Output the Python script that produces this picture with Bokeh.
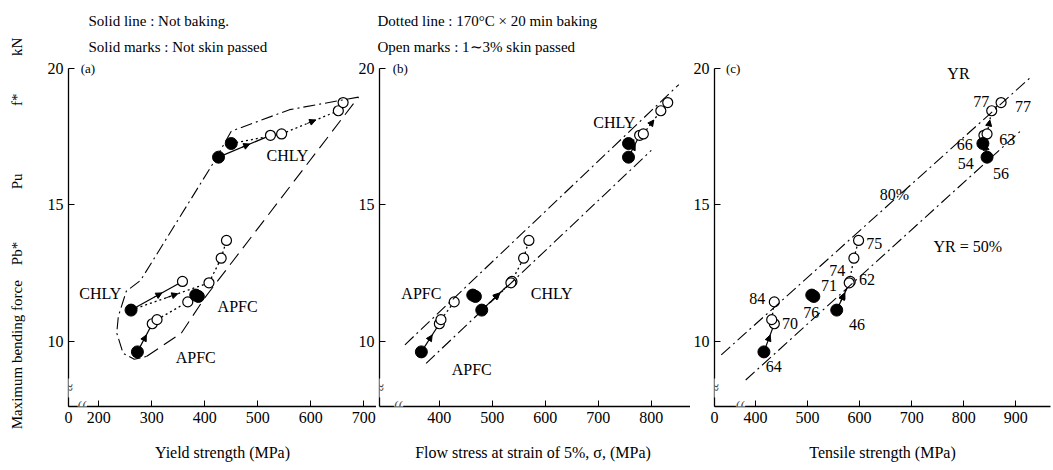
from bokeh.plotting import figure
from bokeh.layouts import row
from bokeh.models import Range1d, FixedTicker, Label, Arrow, NormalHead, Title
from bokeh.embed import file_html
from bokeh.resources import INLINE

FONT = "Liberation Serif"

# ---------------- data ----------------
point_ids = ["AL_f", "AL_o1", "AL_o2", "AL_o3", "AH_f1", "AH_f2", "CL_f", "CL_oA", "CL_oB",
             "CL_oC", "CL_oD", "CH_f1", "CH_f2", "CH_o1", "CH_o2", "CH_o3", "CH_o4"]
solid_mark = [True, False, False, False, True, True, True, False, False,
              False, False, True, True, False, False, False, False]
max_force = [9.62, 10.65, 10.8, 11.45, 11.7, 11.65, 11.15, 12.2, 12.15,
             13.05, 13.7, 16.75, 17.25, 17.55, 17.6, 18.45, 18.75]
yield_strength = [273, 301, 310, 368, 383, 388, 261, 358, 408,
                  431, 441, 426, 450, 524, 545, 652, 661]
flow_stress = [366, 400, 403, 428, 463, 468, 480, 537, 535,
               559, 569, 757, 757, 778, 785, 818, 831]
tensile_strength = [416, 436, 431, 436, 508, 512, 556, 582, 580,
                    589, 598, 845, 837, 839, 845, 854, 872]

solid_links = [("AL_f", "AL_o1"), ("CL_f", "CL_oA"), ("CH_f1", "CH_o1")]
dotted_links = [("AL_o2", "AL_o3"), ("CL_f", "CL_oB"), ("CL_oB", "CL_oC"), ("CL_oC", "CL_oD"),
                ("CH_f2", "CH_o2"), ("CH_o2", "CH_o3"), ("CH_o3", "CH_o4")]
arrow_links = [("AL_f", "AL_o1"), ("CL_f", "CL_oA"), ("CH_f1", "CH_o1"),
               ("CL_f", "CL_oB"), ("CH_o2", "CH_o3")]

yield_ticks = [200, 300, 400, 500, 600, 700]
flow_ticks = [400, 500, 600, 700, 800]
tensile_ticks = [400, 500, 600, 700, 800, 900]
force_ticks = [10, 15, 20]

# envelope / reference lines
env_a_dashdot_x = [690, 560, 450, 414, 279, 252, 237, 234, 246, 267, 290]
env_a_dashdot_y = [18.95, 18.49, 17.7, 16.47, 12.24, 11.84, 10.92, 10.31, 9.57, 9.35, 9.45]
env_a_dash_x = [290, 356, 400, 690]
env_a_dash_y = [9.45, 10.31, 11.6, 18.95]
band_b_upper_x = [335, 852]
band_b_upper_y = [9.88, 19.41]
band_b_lower_x = [375, 800]
band_b_lower_y = [9.2, 17.0]
yr80_x = [334, 928]
yr80_y = [9.51, 19.66]
yr50_x = [381, 909]
yr50_y = [8.59, 17.7]

labels_a = [("CHLY", 556, 16.8), ("CHLY", 203, 11.76), ("APFC", 462, 11.29), ("APFC", 383, 9.41)]
labels_b = [("CHLY", 730, 18.01), ("APFC", 366, 11.76), ("CHLY", 612, 11.76), ("APFC", 461, 8.97)]
labels_c = [("YR", 790, 19.82), ("77", 834, 18.8), ("77", 914, 18.62), ("66", 802, 17.2),
            ("63", 884, 17.39), ("54", 804, 16.53), ("56", 872, 16.16), ("80%", 667, 15.37),
            ("YR = 50%", 808, 13.47), ("75", 628, 13.59), ("74", 557, 12.61), ("71", 541, 12.05),
            ("62", 614, 12.27), ("84", 403, 11.59), ("76", 507, 11.07), ("70", 466, 10.67),
            ("46", 595, 10.61), ("64", 435, 9.08)]

Y_RANGE = (7.62, 20.29)
idx = {k: i for i, k in enumerate(point_ids)}
EM = "\u2003"
EN = "\u2002"


def make_panel(xvals, xr, width, mbl, mbr, ticks, zero_label, xlabel, margin_left):
    p = figure(width=width, height=470, x_range=Range1d(*xr), y_range=Range1d(*Y_RANGE),
               output_backend="svg", toolbar_location=None,
               min_border_left=mbl, min_border_right=mbr, min_border_top=60, min_border_bottom=64,
               margin=(0, 0, 0, margin_left))
    p.grid.visible = False
    p.outline_line_color = None
    p.background_fill_alpha = 0
    p.border_fill_alpha = 0

    xt = list(ticks)
    overrides = {}
    if zero_label:
        xt = [xr[0]] + xt
        overrides = {xr[0]: "0"}
    p.xaxis.ticker = FixedTicker(ticks=xt)
    p.xaxis.major_label_overrides = overrides
    p.yaxis.ticker = FixedTicker(ticks=force_ticks)
    p.yaxis.bounds = (Y_RANGE[0], 20)
    for ax in (p.xaxis, p.yaxis):
        ax.major_tick_in = 6
        ax.major_tick_out = 0
        ax.minor_tick_line_color = None
        ax.axis_line_color = "black"
        ax.axis_line_width = 1.3
        ax.major_tick_line_color = "black"
        ax.major_label_text_font = FONT
        ax.major_label_text_font_size = "16px"
        ax.major_label_text_color = "black"
        ax.axis_label_text_font = FONT
        ax.axis_label_text_font_size = "16px"
        ax.axis_label_text_font_style = "normal"
        ax.axis_label_text_color = "black"
    p.xaxis.axis_label = xlabel
    p.xaxis.axis_label_standoff = 18

    for a, b in solid_links:
        p.line([xvals[idx[a]], xvals[idx[b]]], [max_force[idx[a]], max_force[idx[b]]],
               line_color="black", line_width=1.2)
    for a, b in dotted_links:
        p.line([xvals[idx[a]], xvals[idx[b]]], [max_force[idx[a]], max_force[idx[b]]],
               line_color="black", line_width=1.3, line_dash="2 3")
    for a, b in arrow_links:
        x0, y0 = xvals[idx[a]], max_force[idx[a]]
        x1, y1 = xvals[idx[b]], max_force[idx[b]]
        p.add_layout(Arrow(end=NormalHead(size=6, fill_color="black", line_color="black"),
                           x_start=x0 + 0.45 * (x1 - x0), y_start=y0 + 0.45 * (y1 - y0),
                           x_end=x0 + 0.6 * (x1 - x0), y_end=y0 + 0.6 * (y1 - y0),
                           line_width=1))

    xs_f = [x for x, s in zip(xvals, solid_mark) if s]
    ys_f = [y for y, s in zip(max_force, solid_mark) if s]
    xs_o = [x for x, s in zip(xvals, solid_mark) if not s]
    ys_o = [y for y, s in zip(max_force, solid_mark) if not s]
    p.scatter(xs_o, ys_o, marker="circle", size=10, fill_color="white", line_color="black", line_width=1.2)
    p.scatter(xs_f, ys_f, marker="circle", size=12, fill_color="black", line_color="black")

    p.add_layout(Label(x=xr[0], y=8.3, text="≈", text_font=FONT, text_font_size="17px",
                       text_align="center", text_baseline="middle", background_fill_color="white"))
    return p


def add_texts(p, items, size="16px"):
    for t, x, y in items:
        p.add_layout(Label(x=x, y=y, text=t, text_font=FONT, text_font_size=size,
                           text_align="center", text_baseline="middle", text_color="black"))


def add_title_lines(p, lines, offset):
    # first entry is placed closest to the frame
    for i, t in enumerate(lines):
        p.add_layout(Title(text=t, align="left", offset=offset, text_font=FONT,
                           text_font_size="15px", text_font_style="normal", text_color="black",
                           standoff=11 if i == 0 else 6), "above")


# ---------- panel (a) ----------
XA = (143, 724)
pa = make_panel(yield_strength, XA, 376, 68, 0, yield_ticks, True, "Yield strength (MPa)", 0)
pa.yaxis.axis_label = ("Maximum bending force" + EM + "Pb*" + EM * 3 + EN + "Pu" +
                       EM * 4 + EN + "f*" + EM * 2 + EN + "kN")
pa.yaxis.axis_label_text_font_size = "15px"
pa.yaxis.axis_label_standoff = 20
pa.line(env_a_dashdot_x, env_a_dashdot_y, line_color="black", line_width=1.1, line_dash="12 4 2 4")
pa.line(env_a_dash_x, env_a_dash_y, line_color="black", line_width=1.1, line_dash="14 7")
add_texts(pa, labels_a)
pa.add_layout(Label(x=166, y=20, text="(a)", text_font=FONT, text_font_size="13px",
                    text_baseline="middle", text_color="black"))
pa.add_layout(Label(x=169, y=Y_RANGE[0], text="((", text_font=FONT, text_font_size="14px",
                    text_align="center", text_baseline="middle", background_fill_color="white"))
add_title_lines(pa, ["Solid marks : Not skin passed", "Solid line : Not baking."], 20)

# ---------- panel (b) ----------
XB = (287, 874)
pb = make_panel(flow_stress, XB, 347, 36, 0, flow_ticks, False,
                "Flow stress at strain of 5%,  σ, (MPa)", -33)
pb.line(band_b_upper_x, band_b_upper_y, line_color="black", line_width=1.1, line_dash="12 4 2 4")
pb.line(band_b_lower_x, band_b_lower_y, line_color="black", line_width=1.1, line_dash="12 4 2 4")
add_texts(pb, labels_b)
pb.add_layout(Label(x=312, y=20, text="(b)", text_font=FONT, text_font_size="13px",
                    text_baseline="middle", text_color="black"))
pb.add_layout(Label(x=323, y=Y_RANGE[0], text="((", text_font=FONT, text_font_size="14px",
                    text_align="center", text_baseline="middle", background_fill_color="white"))
add_title_lines(pb, ["Open marks : 1∼3% skin passed", "Dotted line : 170°C × 20 min baking"], -2)

# ---------- panel (c) ----------
XC = (321, 967)
pc = make_panel(tensile_strength, XC, 375, 36, 3, tensile_ticks, True, "Tensile strength (MPa)", -12)
pc.line(yr80_x, yr80_y, line_color="black", line_width=1.1, line_dash="12 4 2 4")
pc.line(yr50_x, yr50_y, line_color="black", line_width=1.1, line_dash="12 4 2 4")
add_texts(pc, labels_c)
pc.add_layout(Label(x=343, y=20, text="(c)", text_font=FONT, text_font_size="13px",
                    text_baseline="middle", text_color="black"))
pc.add_layout(Label(x=371, y=Y_RANGE[0], text="((", text_font=FONT, text_font_size="14px",
                    text_align="center", text_baseline="middle", background_fill_color="white"))

layout = row(pa, pb, pc)
open("out.html", "w").write(file_html(layout, INLINE))
